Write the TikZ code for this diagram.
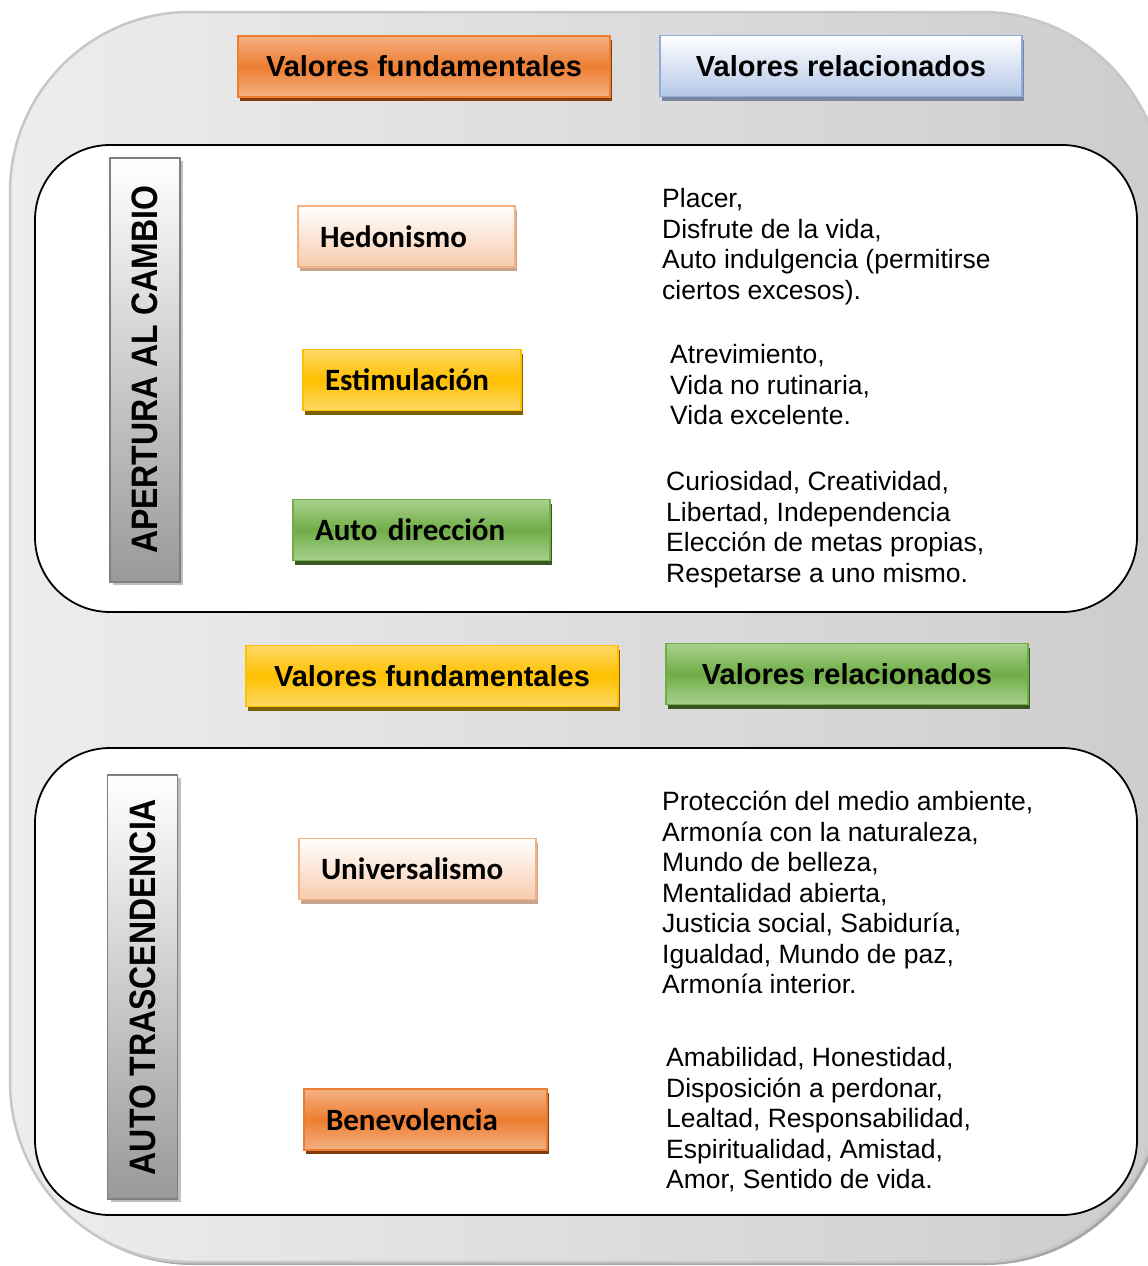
\documentclass[tikz,border=0pt]{standalone}
\usepackage{fontspec}
\usepackage{graphicx}
\setmainfont{Liberation Sans}
\newfontfamily\calibri{Carlito}
\usetikzlibrary{shadows}

\definecolor{orangeedge}{HTML}{ED7D31}
\definecolor{orangelight}{HTML}{F4B183}
\definecolor{orangeshadow}{HTML}{843C0C}
\definecolor{blueedge}{HTML}{8FAADC}
\definecolor{bluefill}{HTML}{B4C7E7}
\definecolor{blueshadow}{HTML}{7A879F}
\definecolor{yellowedge}{HTML}{FFC000}
\definecolor{yellowlight}{HTML}{FFD966}
\definecolor{yellowshadow}{HTML}{7F6000}
\definecolor{greenedge}{HTML}{70AD47}
\definecolor{greenlight}{HTML}{A9D18E}
\definecolor{greenshadow}{HTML}{385723}
\definecolor{peachedge}{HTML}{F4B183}
\definecolor{peachfill}{HTML}{F8CBAD}
\definecolor{peachshadow}{HTML}{C8A58F}
\definecolor{framelight}{HTML}{EDEDED}
\definecolor{framedark}{HTML}{CDCDCD}

\begin{document}
\begin{tikzpicture}[
    x=1pt, y=-1pt,
    % Node styles
    valbox/.style={
        rectangle,
        line width=1.5pt,
        minimum height=61pt,
        inner xsep=22pt,
        align=left,
        font=\calibri\bfseries\fontsize{31}{31}\selectfont
    },
    headbox/.style={
        rectangle,
        line width=1.5pt,
        minimum height=61pt,
        align=center,
        font=\bfseries\fontsize{29}{29}\selectfont
    },
    orangefill/.style={
        draw=orangeedge,
        top color=orangelight, bottom color=orangelight, middle color=orangeedge,
        general shadow={fill=orangeshadow, shadow xshift=2pt, shadow yshift=-4pt}
    },
    yellowfill/.style={
        draw=yellowedge,
        top color=yellowlight, bottom color=yellowlight, middle color=yellowedge,
        general shadow={fill=yellowshadow, shadow xshift=2pt, shadow yshift=-4pt}
    },
    greenfill/.style={
        draw=greenedge,
        top color=greenlight, bottom color=greenlight, middle color=greenedge,
        general shadow={fill=greenshadow, shadow xshift=2pt, shadow yshift=-4pt}
    },
    bluefill/.style={
        draw=blueedge,
        top color=white, bottom color=bluefill,
        general shadow={fill=blueshadow, shadow xshift=2pt, shadow yshift=-4pt}
    },
    peachfill/.style={
        draw=peachedge,
        top color=white, bottom color=peachfill,
        general shadow={fill=peachshadow, shadow xshift=2pt, shadow yshift=-4pt}
    },
    panel/.style={
        rectangle,
        rounded corners=75pt,
        draw=black,
        line width=1.8pt,
        fill=white,
        minimum width=1102pt,
        minimum height=467pt
    },
    sidebar/.style={
        rectangle,
        draw=black!50,
        line width=1.5pt,
        top color=white, bottom color=black!40,
        minimum width=70pt,
        minimum height=424pt,
        inner sep=0pt,
        font=\bfseries\fontsize{32}{32}\selectfont,
        general shadow={fill=black!25, shadow xshift=3pt, shadow yshift=-3pt}
    },
    valtext/.style={
        anchor=north west,
        inner sep=0pt,
        align=left,
        font=\fontsize{26.5}{30.5}\selectfont
    }
]
\useasboundingbox (0,0) rectangle (1148,1266);

% === Background frame ===
\draw[draw=black!22, line width=2.5pt, left color=framelight, right color=framedark,
      rounded corners=180pt,
      general shadow={fill=black!35, shadow xshift=3pt, shadow yshift=-3pt}]
      (10,12) rectangle (1162,1262);

% === Panels ===
\node[panel] (panelA) at (586,378.5) {};
\node[panel] (panelB) at (586,981.5) {};

% === Headers (top) ===
\node[headbox, orangefill, minimum width=372pt] (fundA) at (424,66.5) {Valores fundamentales};
\node[headbox, bluefill, minimum width=362pt] (relA) at (841,66) {Valores relacionados};

% === Headers (middle) ===
\node[headbox, yellowfill, minimum width=372pt] (fundB) at (432,676) {Valores fundamentales};
\node[headbox, greenfill, minimum width=362pt] (relB) at (847,674) {Valores relacionados};

% === Side bars ===
\node[sidebar] (apertura) at (145,370)
    {\rotatebox{90}{\scalebox{1}[1.15]{APERTURA AL CAMBIO}}};
\node[sidebar] (trascendencia) at (142.5,987)
    {\rotatebox{90}{\scalebox{1}[1.15]{AUTO TRASCENDENCIA}}};

% === Fundamental values ===
\node[valbox, peachfill, text width=173pt] (hedonismo) at (406.5,236.5) {Hedonismo};
\node[valbox, yellowfill, text width=174pt] (estimulacion) at (412,380) {Estimulación};
\node[valbox, greenfill, text width=213pt] (autodir) at (421.5,530) {Auto dirección};
\node[valbox, peachfill, text width=193pt] (universalismo) at (417.5,869) {Universalismo};
\node[valbox, orangefill, text width=199pt] (benevolencia) at (425.5,1119.5) {Benevolencia};

% === Related values ===
\node[valtext] (hedtext) at (662,182.5) {\rule{0pt}{25pt}Placer,\\
    Disfrute de la vida,\\
    Auto indulgencia (permitirse\\
    ciertos excesos).};
\node[valtext] (esttext) at (670,338.5) {\rule{0pt}{25pt}Atrevimiento,\\
    Vida no rutinaria,\\
    Vida excelente.};
\node[valtext] (dirtext) at (666,465.5) {\rule{0pt}{25pt}Curiosidad, Creatividad,\\
    Libertad, Independencia\\
    Elección de metas propias,\\
    Respetarse a uno mismo.};
\node[valtext] (unitext) at (662,785.5) {\rule{0pt}{25pt}Protección del medio ambiente,\\
    Armonía con la naturaleza,\\
    Mundo de belleza,\\
    Mentalidad abierta,\\
    Justicia social, Sabiduría,\\
    Igualdad, Mundo de paz,\\
    Armonía interior.};
\node[valtext] (bentext) at (666,1041.5) {\rule{0pt}{25pt}Amabilidad, Honestidad,\\
    Disposición a perdonar,\\
    Lealtad, Responsabilidad,\\
    Espiritualidad, Amistad,\\
    Amor, Sentido de vida.};

\end{tikzpicture}
\end{document}
